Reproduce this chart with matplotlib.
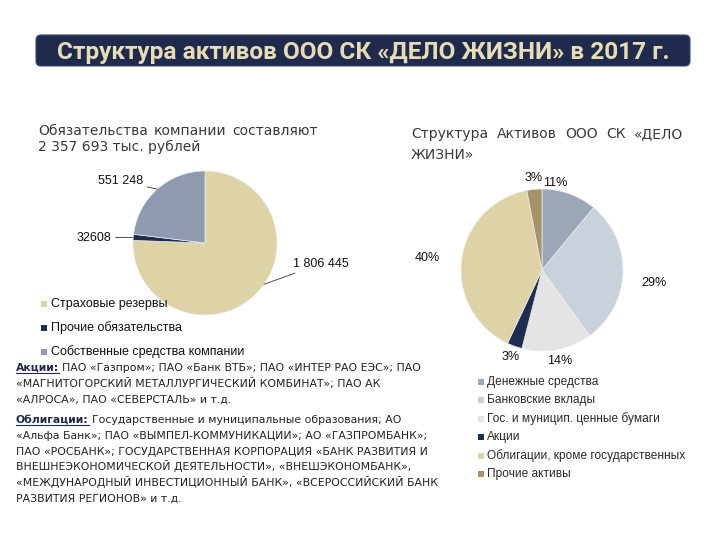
import matplotlib

matplotlib.use("Agg")
import matplotlib.pyplot as plt
import numpy as np
from matplotlib.patches import FancyBboxPatch
from matplotlib.transforms import Affine2D

W, H, DPI = 720, 540, 100

TITLE = "Структура активов ООО СК «ДЕЛО ЖИЗНИ» в 2017 г."

# left pie: liabilities, thousand rubles
liab_names = ["Страховые резервы", "Прочие обязательства", "Собственные средства компании"]
liab_values = [1806445, 32608, 551248]
liab_labels = ["1 806 445", "32608", "551 248"]
liab_colors = ["#DDD3A6", "#1F2D50", "#8E9BAE"]

# right pie: asset structure, %
asset_names = ["Денежные средства", "Банковские вклады", "Гос. и муницип. ценные бумаги",
               "Акции", "Облигации, кроме государственных", "Прочие активы"]
asset_values = [11, 29, 14, 3, 40, 3]
asset_colors = ["#9AA7B8", "#C8D1DC", "#E4E4E4", "#1F2D50", "#DDD3A6", "#A89268"]

shares_lines = [
    "ПАО «Газпром»; ПАО «Банк ВТБ»; ПАО «ИНТЕР РАО ЕЭС»; ПАО",
    "«МАГНИТОГОРСКИЙ МЕТАЛЛУРГИЧЕСКИЙ КОМБИНАТ»; ПАО АК",
    "«АЛРОСА», ПАО «СЕВЕРСТАЛЬ» и т.д.",
]
bonds_lines = [
    "Государственные и муниципальные образования; АО",
    "«Альфа Банк»; ПАО «ВЫМПЕЛ-КОММУНИКАЦИИ»; АО «ГАЗПРОМБАНК»;",
    "ПАО «РОСБАНК»; ГОСУДАРСТВЕННАЯ КОРПОРАЦИЯ «БАНК РАЗВИТИЯ И",
    "ВНЕШНЕЭКОНОМИЧЕСКОЙ ДЕЯТЕЛЬНОСТИ», «ВНЕШЭКОНОМБАНК»,",
    "«МЕЖДУНАРОДНЫЙ ИНВЕСТИЦИОННЫЙ БАНК», «ВСЕРОССИЙСКИЙ БАНК",
    "РАЗВИТИЯ РЕГИОНОВ» и т.д.",
]

NAVY = "#1F2A4C"

fig = plt.figure(figsize=(W / DPI, H / DPI), dpi=DPI)
PX = Affine2D().scale(1, -1).translate(0, H)  # pixel coords, origin top-left
rend = fig.canvas.get_renderer()


def axes_px(x0, y0, w, h):
    return fig.add_axes([x0 / W, 1 - (y0 + h) / H, w / W, h / H])


def width_of(t):
    return t.get_window_extent(rend).width


def justify(words, x0, x1, y, **kw):
    items = [fig.text(0, 0, w, transform=PX, va="baseline", **kw) for w in words]
    total = sum(width_of(t) for t in items)
    gap = (x1 - x0 - total) / (len(items) - 1)
    x = x0
    for t in items:
        t.set_position((x, y))
        x += width_of(t) + gap


# title banner
fig.patches.append(FancyBboxPatch((36, 35), 654, 31, boxstyle="round,pad=0,rounding_size=5",
                                  transform=PX, fc=NAVY, ec="#3A4A6E", lw=0.8))
fig.text(363, 52, TITLE, transform=PX, ha="center", va="center", fontsize=17.6,
         fontweight="bold", family="Roboto", color="#E6DDB8")

# headings
hd = dict(fontsize=10, color="#3A3A3A", family="DejaVu Sans")
justify(["Обязательства", "компании", "составляют"], 38, 318, 135, **hd)
fig.text(38, 151, "2 357 693 тыс. рублей", transform=PX, va="baseline", **hd)
justify(["Структура", "Активов", "ООО", "СК", "«ДЕЛО"], 411, 683, 138, **hd)
fig.text(411, 159, "ЖИЗНИ»", transform=PX, va="baseline", **hd)

lab = dict(fontsize=9, color="#111111", family="Liberation Sans")

# left pie
ax1 = axes_px(133, 171, 144, 144)
w1, _ = ax1.pie(liab_values, colors=liab_colors, startangle=90, counterclock=False,
                wedgeprops=dict(lw=0.5, ec="#EDEDED"))
ax1.set(xlim=(-1, 1), ylim=(-1, 1), aspect="equal")
lab_pos1 = [(1.22, -0.29), (-1.3, 0.07), (-0.86, 0.86)]
ha1 = ["left", "right", "right"]
for wd, txt, pos, ha in zip(w1, liab_labels, lab_pos1, ha1):
    ang = np.deg2rad((wd.theta1 + wd.theta2) / 2)
    if txt == "1 806 445":
        ang = np.deg2rad(-35)
    ax1.annotate(txt, xy=(np.cos(ang), np.sin(ang)), xytext=pos, ha=ha, va="center",
                 arrowprops=dict(arrowstyle="-", lw=0.6, color="#333333",
                                 shrinkA=1, shrinkB=0), annotation_clip=False, **lab)

for i, (name, c) in enumerate(zip(liab_names, liab_colors)):
    y = 304 + 24 * i
    fig.patches.append(plt.Rectangle((41, y - 3), 6, 6, transform=PX, fc=c, ec="none"))
    fig.text(51, y, name, transform=PX, va="center", **lab)

# right pie
ax2 = axes_px(461, 189, 162, 162)
w2, _ = ax2.pie(asset_values, colors=asset_colors, startangle=90, counterclock=False,
                wedgeprops=dict(lw=0.5, ec="#EDEDED"))
ax2.set(xlim=(-1, 1), ylim=(-1, 1), aspect="equal")
for wd, v in zip(w2, asset_values):
    ang = np.deg2rad((wd.theta1 + wd.theta2) / 2)
    x, y = 1.14 * np.cos(ang), 1.14 * np.sin(ang)
    ha = "center" if abs(x) < 0.5 else ("left" if x > 0 else "right")
    if v == 11:
        x, ha = 0.16, "center"
    elif v == 40:
        x = -1.26
    elif v == 29:
        x, y = 1.22, -0.16
    ax2.text(x, y, f"{v}%", ha=ha, va="center", **lab)

for i, (name, c) in enumerate(zip(asset_names, asset_colors)):
    y = 382 + 18.4 * i
    fig.patches.append(plt.Rectangle((478, y - 3), 6, 6, transform=PX, fc=c, ec="none"))
    fig.text(487, y, name, transform=PX, va="center",
             **{**lab, "fontsize": 8.6, "color": "#2A2A2A"})

# text block, font size fitted so the first line spans what it does in the slide
X0 = 16
bt = dict(fontsize=8, color="#222222", family="DejaVu Sans")
probe = fig.text(0, 0, "Акции: " + shares_lines[0], transform=PX, **bt)
bt["fontsize"] = 8 * 398 / width_of(probe)
probe.remove()


def paragraph(head, lines, y0):
    h = fig.text(X0, y0, head, transform=PX, va="baseline", fontweight="bold",
                 **{**bt, "color": NAVY})
    hw = width_of(h)
    fig.lines.append(plt.Line2D([X0, X0 + hw], [y0 + 2, y0 + 2], transform=PX,
                                color=NAVY, lw=0.8))
    fig.text(X0 + hw + 3, y0, lines[0], transform=PX, va="baseline", **bt)
    for k, ln in enumerate(lines[1:], 1):
        fig.text(X0, y0 + 15.8 * k, ln, transform=PX, va="baseline", **bt)


paragraph("Акции:", shares_lines, 371)
paragraph("Облигации:", bonds_lines, 423)

fig.savefig("out.png", dpi=DPI, facecolor="white")
